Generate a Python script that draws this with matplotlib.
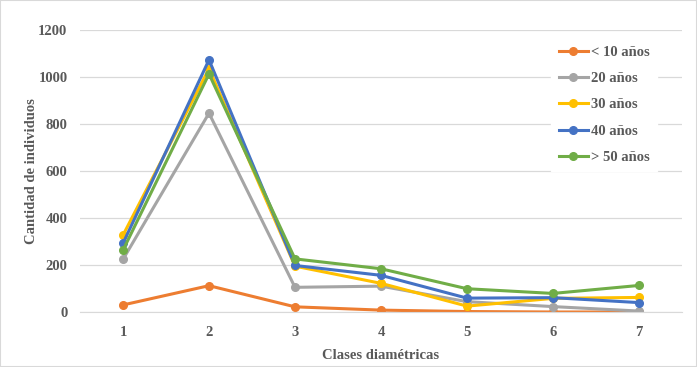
import matplotlib
matplotlib.use('Agg')
import matplotlib.pyplot as plt
from matplotlib.patches import Rectangle

clases = [1, 2, 3, 4, 5, 6, 7]
menos10 = [30, 112, 22, 8, 2, 0, 0]
anios20 = [224, 846, 105, 110, 44, 23, 4]
anios30 = [327, 1035, 195, 122, 25, 58, 62]
anios40 = [292, 1073, 198, 156, 59, 61, 40]
mas50 = [263, 1013, 226, 184, 99, 79, 113]

series = [
    ('< 10 años', menos10, '#ED7D31'),
    ('20 años', anios20, '#A5A5A5'),
    ('30 años', anios30, '#FFC000'),
    ('40 años', anios40, '#4472C4'),
    ('> 50 años', mas50, '#70AD47'),
]

plt.rcParams['font.family'] = ['Liberation Serif', 'DejaVu Serif']
plt.rcParams['font.weight'] = 'bold'
txt = '#595959'

fig = plt.figure(figsize=(6.97, 3.67), dpi=100)
ax = fig.add_axes([80 / 697, 1 - 312 / 367, 602 / 697, 282 / 367])

for label, vals, c in series:
    ax.plot(clases, vals, color=c, lw=2.2, marker='o', ms=5.5, label=label)

ax.set_xlim(0.5, 7.5)
ax.set_ylim(0, 1200)
ax.set_yticks(range(0, 1201, 200))
ax.set_xticks(clases)
ax.grid(axis='y', color='#D9D9D9', lw=0.9)
ax.set_axisbelow(True)
for s in ['top', 'right', 'left']:
    ax.spines[s].set_visible(False)
ax.spines['bottom'].set_color('#D9D9D9')
ax.tick_params(length=0, labelsize=10.5, labelcolor=txt)
ax.tick_params(axis='x', pad=10)
ax.tick_params(axis='y', pad=9)
for t in ax.get_xticklabels() + ax.get_yticklabels():
    t.set_fontweight('bold')

ax.set_xlabel('Clases diamétricas', fontsize=10.5, color=txt, fontweight='bold', labelpad=7)
ax.set_ylabel('Cantidad de individuos', fontsize=10.5, color=txt, fontweight='bold', labelpad=0)

leg = ax.legend(loc='upper left', bbox_to_anchor=(544 / 697, 1 - 31 / 367), bbox_transform=fig.transFigure,
                frameon=True, fancybox=False, edgecolor='white', framealpha=1,
                prop={'size': 10.5, 'weight': 'bold'}, labelspacing=0.9, handlelength=2.0, handletextpad=0.2,
                borderpad=0.5)
for t in leg.get_texts():
    t.set_color(txt)

fig.patches.append(Rectangle((0, 0), 1, 1, transform=fig.transFigure, fill=False,
                             edgecolor='#D9D9D9', lw=1.5))

fig.savefig('out.png', dpi=100)
